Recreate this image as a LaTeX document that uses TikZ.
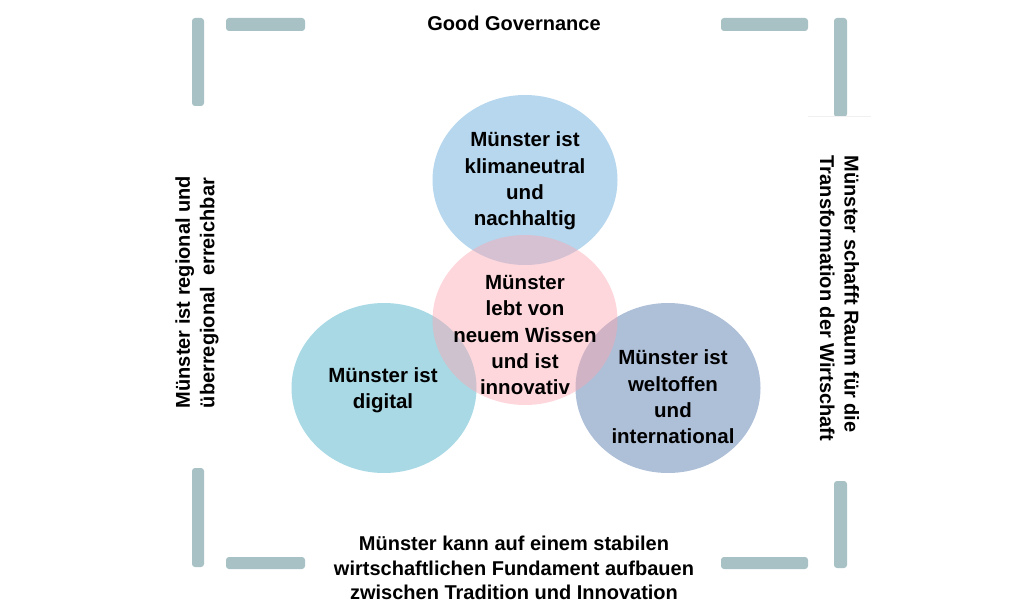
\documentclass[tikz,border=0pt]{standalone}
\usepackage{fontspec}
\setmainfont{Liberation Sans}
\usetikzlibrary{shapes.geometric}

\definecolor{barcol}{RGB}{167,193,197}
\definecolor{klimablue}{RGB}{93,166,217}
\definecolor{wissenpink}{RGB}{251,166,177}
\definecolor{digitalteal}{RGB}{62,171,195}
\definecolor{weltblue}{RGB}{75,113,168}

\begin{document}
\begin{tikzpicture}[x = 1pt, y = -1pt,
    bar/.style = {fill = barcol, rounded corners = 3pt},
    bubble/.style = {ellipse, minimum width = 185pt, minimum height = 170pt, inner sep = 0pt, fill opacity = 0.45},
    bubbletext/.style = {align = center, inner sep = 0pt, font = \bfseries\fontsize{20.5}{26.3}\selectfont},
    sidetext/.style = {inner sep = 0pt, font = \bfseries\fontsize{20}{24.5}\selectfont}]
        \useasboundingbox (0,0) rectangle (1028,615);
        
        \fill[bar] (192,18) rectangle (204,106);
        \fill[bar] (226,18) rectangle (305,31);
        \fill[bar] (721,18) rectangle (808,31);
        \fill[bar] (834,18) rectangle (847,117);
        \fill[bar] (192,468) rectangle (204,567);
        \fill[bar] (226,557) rectangle (305,569);
        \fill[bar] (721,557) rectangle (808,569);
        \fill[bar] (834,481) rectangle (847,568);
        \draw[gray!12, line width = 1pt] (808,117) -- (871,117);
        
        \node[bubble, fill = klimablue] (klima) at (525,180) {};
        \node[bubble, fill = digitalteal] (digital) at (384,388) {};
        \node[bubble, fill = weltblue] (welt) at (668,388) {};
        \node[bubble, fill = wissenpink] (wissen) at (525,320) {};
        
        \node[bubbletext] (klimatext) at (525,181) {Münster ist\\klimaneutral\\und\\nachhaltig};
        \node[bubbletext] (wissentext) at (525,335) {Münster\\lebt von\\neuem Wissen\\und ist\\innovativ};
        \node[bubbletext] (digitaltext) at (383,390) {Münster ist\\digital};
        \node[bubbletext] (welttext) at (673,397) {Münster ist\\weltoffen\\und\\international};
        
        \node[sidetext, anchor = base] (governance) at (514,31) {Good Governance};
        \node[sidetext, align = center] (fundament) at (514,568)
        {Münster kann auf einem stabilen\\wirtschaftlichen Fundament aufbauen\\zwischen Tradition und Innovation};
        \node[sidetext, align = left, rotate = 90] (regional) at (197,292)
        {Münster ist regional und\\überregional \ erreichbar};
        \node[sidetext, align = left, rotate = -90] (transformation) at (839.5,298.5)
        {Münster schafft Raum für die\\Transformation der Wirtschaft};
    \end{tikzpicture}
\end{document}
